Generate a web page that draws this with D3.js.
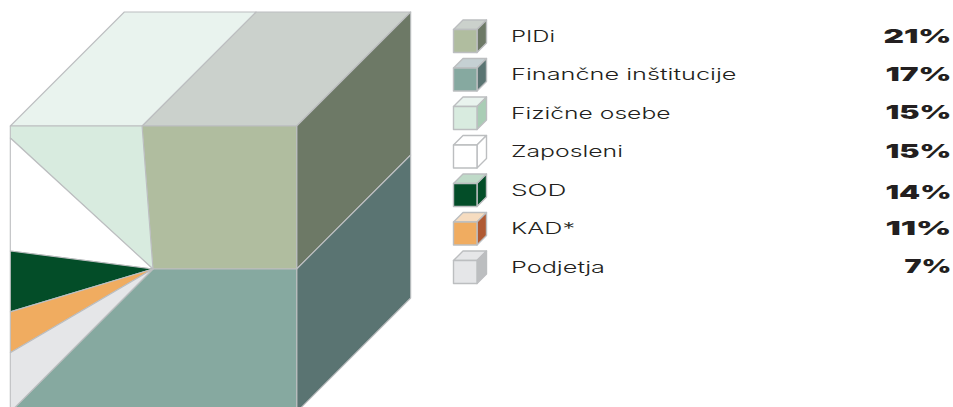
<!DOCTYPE html>
<html>
<head>
<meta charset="utf-8">
<script src="https://cdn.jsdelivr.net/npm/d3@7"></script>
<style>
html,body{margin:0;padding:0;background:#fff;overflow:hidden}
svg{display:block}
</style>
</head>
<body>
<svg id="chart" width="953" height="407"></svg>
<script>
const categories = ["PIDi","Finančne inštitucije","Fizične osebe","Zaposleni","SOD","KAD*","Podjetja"];
const shares = [21,17,15,15,14,11,7];
const shareLabels = ["21%","17%","15%","15%","14%","11%","7%"];
// Where each slice starts/ends on the front face perimeter, clockwise:
// 0 = top-left corner, 1 = top-right, 2 = bottom-right, 3 = bottom-left, 4 = top-left again
const sliceStart = [0.46,1.5,3.958,3.563,3.35,3.207,3.0];
const sliceEnd   = [1.5,3.0,4.46,3.958,3.563,3.35,3.207];
const frontFill = ["#b0bd9f","#86a9a0","#d8ebdf","#ffffff","#034d28","#f0ac60","#e5e6e8"];
const topFill   = ["#cbd1cc","#c5d0d3","#e9f3ee","#ffffff","#bfdac8","#f6dcc0","#e5e6e8"];
const sideFill  = ["#6d7966","#5a7472","#a9cdb5","#ffffff","#034d28","#b05a33","#bcbec0"];

// layout
const labelWidths = [44,225.5,159.5,112,55.5,64,94];
const valueWidths = [68,66,66,66,66,66,47];
const valueNudge  = [0,0,0,0,3,0,0];
const edge = "#bcbec0", ink = "#231f20";

const svg = d3.select("#chart");
const line = d3.line().curve(d3.curveLinearClosed);
const cube = svg.append("g");

const x = d3.scaleLinear([0,1],[10.3,296.7]);
const y = d3.scaleLinear([0,1],[126,412]);
const depth = d3.scaleLinear([0,1],[0,114]);
const centre = [0.498,0.5];
const px = ([u,v]) => [x(u),y(v)];
const back = ([u,v]) => [x(u)+depth(1),y(v)-depth(1)];

// position on the perimeter -> unit coordinates of the front face
function perim(t){
  const m = ((t%4)+4)%4, k = Math.floor(m), f = m-k;
  return [[f,0],[1,f],[1-f,1],[0,1-f]][k];
}
function sliceFront(s,e){
  const pts = [centre, perim(s)];
  for(let c=Math.ceil(s+1e-9); c<e; c++) pts.push(perim(c));
  pts.push(perim(e));
  return pts.map(px);
}
// Part of [s,e] lying on a given perimeter edge [a,a+1] (also checks the wrapped turn)
function overlap(s,e,a){
  for(const w of [0,4]){
    const lo = Math.max(s,a+w), hi = Math.min(e,a+w+1);
    if(hi>lo) return [lo,hi];
  }
  return null;
}
const idx = d3.range(categories.length);
const stroke = sel => sel.attr("stroke",edge).attr("stroke-width",1.1).attr("stroke-linejoin","round");

// top and right faces
idx.forEach(i=>{
  const t = overlap(sliceStart[i],sliceEnd[i],0);
  if(t) cube.append("path").attr("d",line([px(perim(t[0])),px(perim(t[1])),back(perim(t[1])),back(perim(t[0]))]))
    .attr("fill",topFill[i]).call(stroke);
  const r = overlap(sliceStart[i],sliceEnd[i],1);
  if(r) cube.append("path").attr("d",line([px(perim(r[0])),px(perim(r[1])),back(perim(r[1])),back(perim(r[0]))]))
    .attr("fill",sideFill[i]).call(stroke);
});
// front face slices
idx.forEach(i=>{
  cube.append("path").attr("d",line(sliceFront(sliceStart[i],sliceEnd[i])))
    .attr("fill",frontFill[i]).call(stroke);
});

// legend
const rowTop = d3.scaleLinear([0,6],[20,251]);
const rowBase = d3.scaleLinear([0,6],[42,272.5]);
const lx = d3.scaleLinear([0,1],[453.5,477]);
const ly = d3.scaleLinear([0,1],[0,23]);
const ld = d3.scaleLinear([0,1],[0,9.5]);
const legend = svg.append("g");
idx.forEach(i=>{
  const g = legend.append("g").attr("transform",`translate(0,${rowTop(i)+ld(1)})`);
  const lstroke = s => s.attr("stroke",edge).attr("stroke-width",1.4).attr("stroke-linejoin","round");
  g.append("path").attr("d",line([[lx(0),ly(0)],[lx(1),ly(0)],[lx(1)+ld(1),ly(0)-ld(1)],[lx(0)+ld(1),ly(0)-ld(1)]])).attr("fill",topFill[i]).call(lstroke);
  g.append("path").attr("d",line([[lx(1),ly(0)],[lx(1)+ld(1),ly(0)-ld(1)],[lx(1)+ld(1),ly(1)-ld(1)],[lx(1),ly(1)]])).attr("fill",sideFill[i]).call(lstroke);
  g.append("path").attr("d",line([[lx(0),ly(0)],[lx(1),ly(0)],[lx(1),ly(1)],[lx(0),ly(1)]])).attr("fill",frontFill[i]).call(lstroke);

  legend.append("text").text(categories[i])
    .attr("x",511).attr("y",rowBase(i))
    .attr("font-family","Inter,'Liberation Sans',sans-serif").attr("font-weight",300).attr("font-size",16.5)
    .attr("fill",ink)
    .attr("textLength",labelWidths[i]).attr("lengthAdjust","spacingAndGlyphs");

  legend.append("text").text(shareLabels[i])
    .attr("x",951.5).attr("y",rowBase(i)+valueNudge[i]+0.5)
    .attr("text-anchor","end")
    .attr("font-family","Inter,'DejaVu Sans',sans-serif").attr("font-weight",900).attr("font-size",19)
    .attr("fill",ink)
    .attr("textLength",valueWidths[i]).attr("lengthAdjust","spacingAndGlyphs");
});
</script>
</body>
</html>
